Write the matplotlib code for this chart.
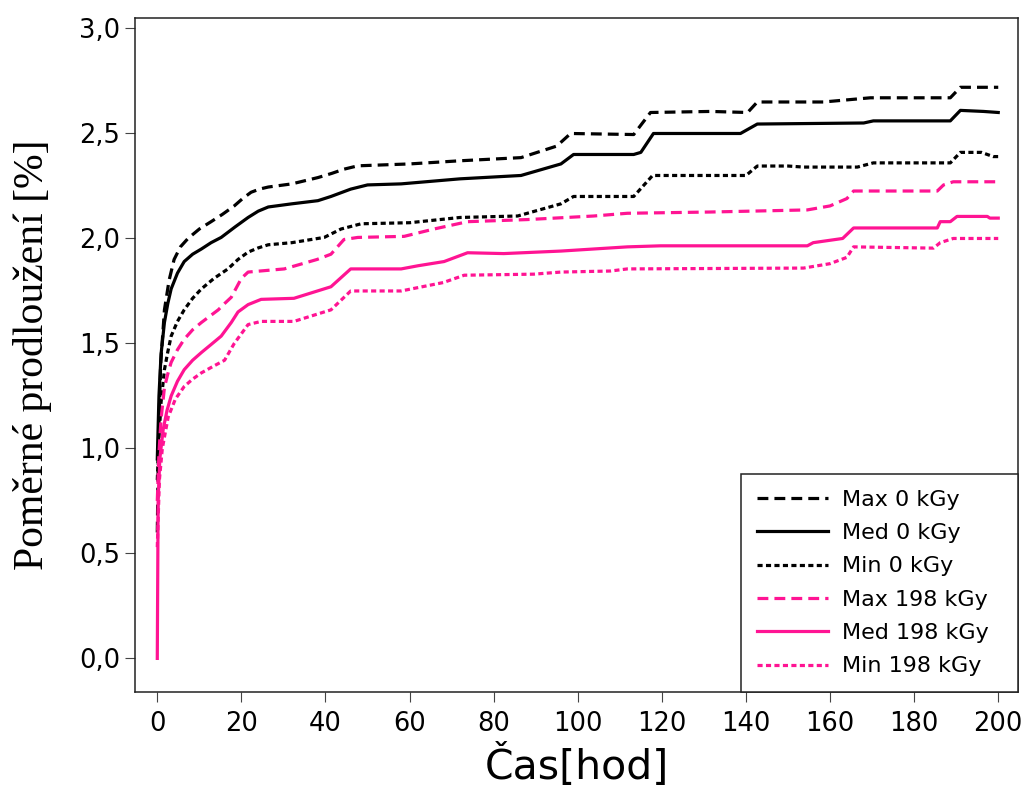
import matplotlib
matplotlib.use("Agg")
import matplotlib.pyplot as plt

# Elongation over time, 0 kGy vs 198 kGy (max / median / min specimens)
t_max0 = [0, 0.3, 0.8, 1.7, 2.8, 4, 5.5, 7.3, 10, 12.8, 15.5, 18.3, 20.3, 22.3, 24.3, 26.4, 32,
          38.2, 41.5, 44.4, 47.7, 60, 72, 86.5, 88.8, 95, 98.3, 113.3, 117.3, 131.6, 140.4, 142.7,
          158.4, 169.6, 188.6, 191, 200]
v_max0 = [0.60, 1.05, 1.40, 1.66, 1.80, 1.90, 1.96, 2.00, 2.045, 2.08, 2.115, 2.155, 2.19, 2.22,
          2.235, 2.245, 2.26, 2.29, 2.31, 2.33, 2.346, 2.355, 2.37, 2.385, 2.40, 2.44, 2.50,
          2.495, 2.60, 2.605, 2.60, 2.65, 2.65, 2.67, 2.67, 2.72, 2.72]

t_med0 = [0, 0.4, 0.9, 1.7, 2.5, 3.3, 4.8, 6.4, 8.4, 10.5, 12.8, 15.2, 18.5, 21.6, 24, 26.4, 32,
          38.2, 41.3, 46, 50, 58, 72, 86.5, 96, 99, 113.3, 115, 118, 131.6, 138.7, 142.7, 168,
          170.3, 188.6, 191, 196.5, 200]
v_med0 = [0.95, 1.25, 1.45, 1.60, 1.69, 1.76, 1.835, 1.89, 1.925, 1.95, 1.98, 2.005, 2.055, 2.10,
          2.13, 2.15, 2.165, 2.18, 2.20, 2.235, 2.255, 2.26, 2.284, 2.30, 2.355, 2.40, 2.40, 2.41,
          2.50, 2.50, 2.50, 2.545, 2.55, 2.56, 2.56, 2.61, 2.605, 2.60]

t_min0 = [0, 0.4, 0.9, 1.7, 2.5, 3.3, 4.8, 6.4, 8.4, 10.5, 13.5, 16.8, 19.2, 21.6, 24, 26.4, 32,
          39.7, 43.7, 48.5, 60, 72, 85.7, 96, 99, 113.3, 117.8, 140, 142.7, 150, 153.7, 166.5,
          170.3, 188.6, 191, 196, 198.8, 200]
v_min0 = [0.85, 1.05, 1.22, 1.375, 1.46, 1.535, 1.605, 1.66, 1.715, 1.76, 1.81, 1.855, 1.90,
          1.935, 1.955, 1.97, 1.98, 2.005, 2.045, 2.07, 2.075, 2.10, 2.107, 2.165, 2.20, 2.20,
          2.30, 2.30, 2.345, 2.345, 2.34, 2.34, 2.36, 2.36, 2.41, 2.41, 2.39, 2.39]

t_max198 = [0, 0.4, 0.9, 1.7, 2.5, 3.3, 4.8, 6.4, 8.4, 10.5, 12.5, 14.5, 16, 17.6, 20, 21.6, 30.2,
            38, 41.3, 44.4, 47.7, 58.7, 65.8, 73.8, 88, 103.8, 111.8, 131.6, 154.6, 160, 164,
            165.6, 185.5, 187, 189.3, 200]
v_max198 = [0.75, 0.98, 1.14, 1.29, 1.355, 1.41, 1.47, 1.52, 1.565, 1.60, 1.63, 1.66, 1.69, 1.72,
            1.81, 1.84, 1.855, 1.90, 1.925, 1.995, 2.005, 2.01, 2.045, 2.08, 2.09, 2.107, 2.12,
            2.126, 2.136, 2.155, 2.19, 2.226, 2.226, 2.255, 2.27, 2.27]

t_med198 = [0, 0.2, 0.6, 1.4, 2.3, 3.3, 4.8, 6.4, 8.4, 10.5, 12.8, 15.2, 17.6, 19.2, 21.6, 24.7,
            32.5, 41.3, 46, 58, 62, 68.2, 73.8, 82.4, 96, 111.8, 119.7, 154.6, 156, 163, 165.6,
            185.5, 186.2, 188.6, 190.2, 197.4, 198, 200]
v_med198 = [0.0, 0.75, 0.95, 1.09, 1.18, 1.25, 1.32, 1.375, 1.42, 1.457, 1.495, 1.535, 1.60,
            1.65, 1.685, 1.71, 1.715, 1.77, 1.855, 1.855, 1.87, 1.89, 1.932, 1.928, 1.94, 1.96,
            1.965, 1.965, 1.98, 2.00, 2.05, 2.05, 2.08, 2.08, 2.105, 2.105, 2.097, 2.097]

t_min198 = [0, 0.5, 1.2, 2.6, 4.3, 6.4, 8.4, 10.5, 13.2, 16, 18.3, 21.6, 24.7, 32.5, 41.3, 46,
            58, 68, 73, 89.5, 96, 107.8, 111.8, 153.7, 160, 164, 165.6, 184.6, 186.2, 189.3, 200]
v_min198 = [0.53, 0.85, 1.0, 1.15, 1.235, 1.295, 1.33, 1.36, 1.39, 1.42, 1.50, 1.59, 1.605,
            1.605, 1.66, 1.75, 1.75, 1.79, 1.825, 1.83, 1.84, 1.845, 1.855, 1.859, 1.88, 1.91,
            1.96, 1.954, 1.98, 2.00, 2.00]

labels = ["Max 0 kGy", "Med 0 kGy", "Min 0 kGy", "Max 198 kGy", "Med 198 kGy", "Min 198 kGy"]
x_ticks = [0, 20, 40, 60, 80, 100, 120, 140, 160, 180, 200]
y_ticks = [0.0, 0.5, 1.0, 1.5, 2.0, 2.5, 3.0]
y_ticklabels = ["0,0", "0,5", "1,0", "1,5", "2,0", "2,5", "3,0"]

PINK = "#ff1493"
LW = 2.3
DASH = (0, (3.4, 1.9))
DOT = (0, (1.6, 1.05))

fig = plt.figure(figsize=(10.24, 7.93), dpi=100)
ax = fig.add_axes([135 / 1024, 1 - 692 / 793, 883 / 1024, 674 / 793])

series = [
    (t_max0, v_max0, "black", DASH),
    (t_med0, v_med0, "black", "-"),
    (t_min0, v_min0, "black", DOT),
    (t_max198, v_max198, PINK, DASH),
    (t_med198, v_med198, PINK, "-"),
    (t_min198, v_min198, PINK, DOT),
]
for (t, v, c, ls), lab in zip(series, labels):
    ax.plot(t, v, color=c, linestyle=ls, linewidth=LW, label=lab)

ax.set_xlim(-5.3, 204.7)
ax.set_ylim(-0.16, 3.05)
ax.set_xticks(x_ticks)
ax.set_xticklabels([str(x) for x in x_ticks])
ax.set_yticks(y_ticks)
ax.set_yticklabels(y_ticklabels)

for sp in ax.spines.values():
    sp.set_linewidth(1.1)
    sp.set_color("#222222")
ax.tick_params(direction="out", length=7.2, width=0.8, color="#444444",
               labelsize=18.5, pad=3.6)
ax.tick_params(axis="x", pad=6.5)
for lbl in ax.get_xticklabels() + ax.get_yticklabels():
    lbl.set_family("DejaVu Sans")

ax.set_xlabel("Čas[hod]", fontsize=29.5, family="DejaVu Sans", labelpad=5)
ax.set_ylabel("Poměrné prodloužení [%]", fontsize=30, family="Liberation Serif")
ax.yaxis.set_label_coords(-0.094, 0.5)

leg = ax.legend(loc="lower left", bbox_to_anchor=(606 / 883, 0, 277 / 883, 0.32),
                mode="expand", borderaxespad=0, fancybox=False, framealpha=1,
                edgecolor="#222222", prop={"family": "DejaVu Sans", "size": 16},
                handlelength=3.2, handletextpad=0.65, labelspacing=0.6, borderpad=0.7)
leg.get_frame().set_linewidth(1.1)

fig.savefig("out.png", dpi=100)
